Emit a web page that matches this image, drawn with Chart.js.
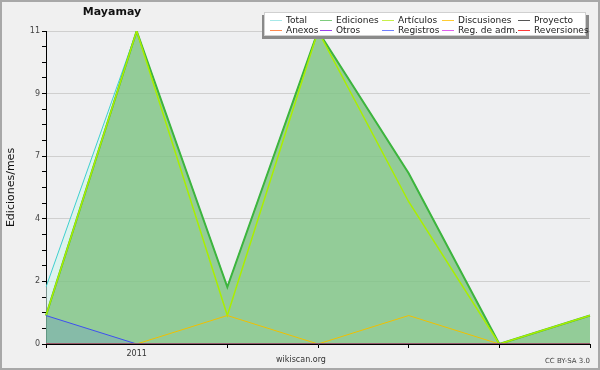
<!DOCTYPE html>
<html>
<head>
<meta charset="utf-8">
<script src="https://cdn.jsdelivr.net/npm/chart.js@4.4.1/dist/chart.umd.min.js"></script>
<style>
  html, body { margin: 0; padding: 0; background: #f0f0f0; }
  #wrap { position: relative; width: 600px; height: 370px; overflow: hidden; font-family: "DejaVu Sans", sans-serif; }
  #chart { position: absolute; left: 0; top: 0; }
  #title { position: absolute; left: 52px; width: 120px; top: 5px; text-align: center; font-weight: bold; font-size: 11px; line-height: 14px; color: #111; }
  #legendShadow { position: absolute; left: 262px; top: 15px; width: 327px; height: 24px; background: #8a8a8a; }
  #legend { position: absolute; left: 264px; top: 12px; width: 320px; height: 22px; background: #fff; border: 1px solid #d0d0d0; }
  .item { position: absolute; font-size: 9px; line-height: 10px; color: #222; white-space: nowrap; }
  .swatch { position: absolute; width: 12px; height: 1px; }
  #site { position: absolute; left: 250px; width: 102px; top: 355px; text-align: center; font-size: 8px; line-height: 10px; color: #333; }
  #cc { position: absolute; right: 10px; top: 357px; font-size: 7px; line-height: 9px; color: #444; }
</style>
</head>
<body>
<div id="wrap">
  <canvas id="chart" width="600" height="370"></canvas>
  <div id="title">Mayamay</div>
  <div id="legendShadow"></div>
  <div id="legend"></div>
  <div id="site">wikiscan.org</div>
  <div id="cc">CC BY-SA 3.0</div>
</div>
<script>
// --- Data (edits per month) ---
const months = ['', '2011', '', '', '', '', ''];

const total       = [2, 11, 2, 11, 6, 0, 1];
const ediciones   = [1, 11, 2, 11, 6, 0, 1];
const articulos   = [1, 11, 1, 11, 5, 0, 1];
const discusiones = [0, 0, 1, 0, 1, 0, 0];
const proyecto    = [0, 0, 0, 0, 0, 0, 0];
const anexos      = [0, 0, 0, 0, 0, 0, 0];
const otros       = [0, 0, 0, 0, 0, 0, 0];
const registros   = [1, 0, 0, 0, 0, 0, 0];
const regAdm      = [0, 0, 0, 0, 0, 0, 0];
const reversiones = [0, 0, 0, 0, 0, 0, 0];

// y axis: major ticks and their (rounded) labels
const yTickValues = [0, 2.2, 4.4, 6.6, 8.8, 11];
const yTickLabels = ['0', '2', '4', '7', '9', '11'];

const seriesNames  = ['Total', 'Ediciones', 'Artículos', 'Discusiones', 'Proyecto',
                      'Anexos', 'Otros', 'Registros', 'Reg. de adm.', 'Reversiones'];
const seriesData   = [total, ediciones, articulos, discusiones, proyecto,
                      anexos, otros, registros, regAdm, reversiones];
const seriesColors = ['#3fcfcf', '#3db53d', '#aaee00', '#f0c000', '#555555',
                      '#ff7f3f', '#8a2be2', '#3f4ff0', '#dd44ee', '#ff3333'];
const legendColors = ['#a6e8e8', '#7dcc7d', '#c8f04a', '#ffcc33', '#555555',
                      '#ff8a50', '#9a40ee', '#7080ff', '#e060f0', '#ff3a3a'];

// fills (only three series are filled)
const fills = {
    0: 'rgba(210,245,238,0.6)',
    1: 'rgba(86,171,81,0.55)',
    7: 'rgba(70,100,255,0.16)'
};
// draw order: higher = further back
const drawOrder = [10, 9, 8, 2, 1, 1, 1, 3, 1, 1];
const lineWidths = [1, 2, 1.5, 1, 1, 1, 1, 1, 1, 1];

// minor ticks: 3 between each pair of majors
let yAllTicks = [];
for (let i = 0; i < yTickValues.length; i++) {
    yAllTicks.push(yTickValues[i]);
    if (i < yTickValues.length - 1) {
        const a = yTickValues[i], b = yTickValues[i + 1];
        for (let k = 1; k <= 3; k++) yAllTicks.push(a + k * (b - a) / 4);
    }
}
function majorIndex(v) {
    return yTickValues.findIndex(t => Math.abs(t - v) < 1e-6);
}

const datasets = seriesNames.map((name, i) => ({
    label: name,
    data: seriesData[i],
    borderColor: seriesColors[i],
    borderWidth: lineWidths[i],
    backgroundColor: fills[i] || 'transparent',
    fill: fills[i] ? 'origin' : false,
    pointRadius: 0,
    tension: 0,
    order: drawOrder[i]
}));

// --- Plugins ---
const bgPlugin = {
    id: 'bg',
    beforeDraw(chart) {
        const c = chart.ctx, a = chart.chartArea;
        c.save();
        c.fillStyle = '#f0f0f0';
        c.fillRect(0, 0, chart.width, chart.height);
        c.fillStyle = '#eeeff1';
        c.fillRect(a.left, a.top, a.right - a.left, a.bottom - a.top);
        c.restore();
    },
    afterDraw(chart) {
        const c = chart.ctx;
        c.save();
        c.strokeStyle = '#a8a8a8';
        c.lineWidth = 2;
        c.strokeRect(1, 1, chart.width - 2, chart.height - 2);
        c.restore();
    }
};

new Chart(document.getElementById('chart').getContext('2d'), {
    type: 'line',
    data: { labels: months, datasets: datasets },
    plugins: [bgPlugin],
    options: {
        responsive: false,
        animation: false,
        layout: { padding: { top: 31, right: 10, bottom: 0, left: 0 } },
        plugins: {
            legend: { display: false },
            title: { display: false },
            tooltip: { enabled: false },
            filler: { drawTime: 'beforeDatasetsDraw' }
        },
        scales: {
            x: {
                type: 'category',
                offset: false,
                z: 1,
                border: { color: '#000', width: 1 },
                grid: {
                    drawOnChartArea: false,
                    tickLength: 4,
                    tickColor: ctx => ctx.index === 1 ? 'rgba(0,0,0,0)' : '#000'
                },
                ticks: {
                    autoSkip: false, maxRotation: 0, padding: 1,
                    font: { family: 'DejaVu Sans', size: 8 }, color: '#333'
                },
                afterFit(scale) { scale.height = 26; }
            },
            y: {
                min: 0, max: 11,
                border: { color: '#000', width: 1 },
                grid: {
                    color: ctx => majorIndex(ctx.tick.value) >= 0 ? '#cfcfcf' : 'rgba(0,0,0,0)',
                    tickColor: '#000',
                    tickLength: 4
                },
                ticks: {
                    padding: 2,
                    font: { family: 'DejaVu Sans', size: 8 }, color: '#444',
                    callback: v => { const m = majorIndex(v); return m >= 0 ? yTickLabels[m] : ''; }
                },
                afterBuildTicks(scale) { scale.ticks = yAllTicks.map(v => ({ value: v })); },
                title: {
                    display: true, text: 'Ediciones/mes', color: '#111',
                    font: { family: 'DejaVu Sans', size: 11 }, padding: { top: 5, bottom: 0 }
                },
                afterFit(scale) { scale.width = 46; }
            }
        }
    }
});

// --- HTML legend, 5 columns x 2 rows ---
const colX = [21, 71, 133, 193, 269];   // text x inside legend box
const rowY = [2, 12];
const legendBox = document.getElementById('legend');
seriesNames.forEach((name, i) => {
    const col = i % 5, row = Math.floor(i / 5);
    const sw = document.createElement('div');
    sw.className = 'swatch';
    sw.style.left = (colX[col] - 16) + 'px';
    sw.style.top = (rowY[row] + 5) + 'px';
    sw.style.background = legendColors[i];
    legendBox.appendChild(sw);
    const t = document.createElement('div');
    t.className = 'item';
    t.style.left = colX[col] + 'px';
    t.style.top = rowY[row] + 'px';
    t.textContent = name;
    legendBox.appendChild(t);
});
</script>
</body>
</html>
